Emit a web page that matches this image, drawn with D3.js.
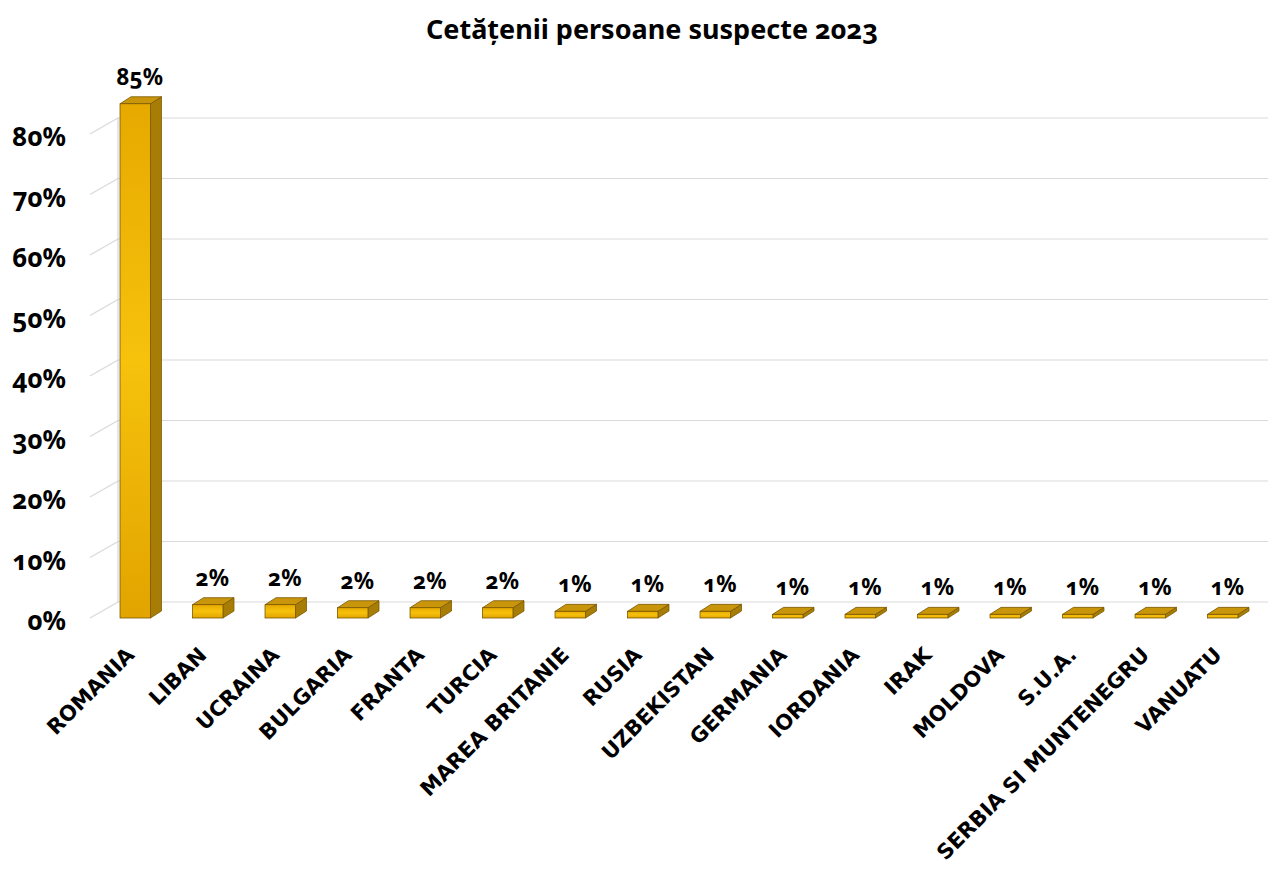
<!DOCTYPE html>
<html><head><meta charset="utf-8">
<script src="https://cdn.jsdelivr.net/npm/d3@7"></script>
<style>
body{margin:0;background:#fff;}
text{font-family:"Noto Sans",sans-serif;font-weight:bold;font-variant-numeric:oldstyle-nums;fill:#000;}
text.cat{font-family:"DejaVu Sans",sans-serif;}
</style></head>
<body><svg id="c" width="1268" height="870"></svg>
<script>
const categories=["ROMANIA","LIBAN","UCRAINA","BULGARIA","FRANTA","TURCIA","MAREA BRITANIE","RUSIA","UZBEKISTAN","GERMANIA","IORDANIA","IRAK","MOLDOVA","S.U.A.","SERBIA SI MUNTENEGRU","VANUATU"];
const values=[85,2.2,2.2,1.7,1.7,1.7,1.1,1.1,1.1,0.6,0.6,0.6,0.6,0.6,0.6,0.6];
const labels=["85%","2%","2%","2%","2%","2%","1%","1%","1%","1%","1%","1%","1%","1%","1%","1%"];
const yTicks=[0,10,20,30,40,50,60,70,80];
const title="Cetățenii persoane suspecte 2023";

const svg=d3.select("#c");
const y=d3.scaleLinear().domain([0,80]).range([618,134]);
const x=d3.scaleBand().domain(categories).range([99,1259]).paddingInner(0.58).paddingOuter(0.29);
const wallDX=28, wallDY=-16; // depth of the back wall
const barDX=11, barDY=-7;   // depth of bar

svg.append("text").attr("x",652).attr("y",39).attr("text-anchor","middle").style("font-size","27px").text(title);

const grid=svg.append("g");
yTicks.forEach(t=>{
  const yf=y(t), yb=y(t)+wallDY;
  grid.append("line").attr("x1",90).attr("y1",yf).attr("x2",90+wallDX).attr("y2",yb).attr("stroke","#d9d9d9").attr("stroke-width",1.2);
  grid.append("line").attr("x1",90+wallDX).attr("y1",yb).attr("x2",1268).attr("y2",yb).attr("stroke","#d9d9d9").attr("stroke-width",1.2);
});
grid.append("line").attr("x1",118).attr("x2",118).attr("y1",y(80)+wallDY).attr("y2",y(0)+wallDY).attr("stroke","#c8cdd8").attr("stroke-width",1);

svg.append("g").selectAll("text").data(yTicks).join("text")
  .attr("x",66).attr("y",d=>y(d)+5).attr("text-anchor","end").attr("dominant-baseline","middle")
  .style("font-size","26px").text(d=>d+"%");

const defs=svg.append("defs");
const g1=defs.append("linearGradient").attr("id","front").attr("x1",0).attr("y1",0).attr("x2",0).attr("y2",1);
g1.append("stop").attr("offset","0").attr("stop-color","#e7a900");
g1.append("stop").attr("offset","0.5").attr("stop-color","#f6c20c");
g1.append("stop").attr("offset","1").attr("stop-color","#e2a400");

const bars=svg.append("g").selectAll("g").data(categories).join("g");
bars.each(function(c,i){
  const g=d3.select(this);
  const x0=x(c), w=x.bandwidth(), yt=y(values[i]), yb=y(0);
  const stroke="#7a5800";
  g.append("path").attr("d",`M${x0+w},${yt}L${x0+w+barDX},${yt+barDY}L${x0+w+barDX},${yb+barDY}L${x0+w},${yb}Z`)
    .attr("fill","#a87d06").attr("stroke",stroke).attr("stroke-width",0.8);
  g.append("path").attr("d",`M${x0},${yt}L${x0+barDX},${yt+barDY}L${x0+w+barDX},${yt+barDY}L${x0+w},${yt}Z`)
    .attr("fill","#c9950a").attr("stroke",stroke).attr("stroke-width",0.8);
  g.append("rect").attr("x",x0).attr("y",yt).attr("width",w).attr("height",yb-yt)
    .attr("fill","url(#front)").attr("stroke",stroke).attr("stroke-width",0.8);
  g.append("text").attr("x",x0+w/2+barDX/2-1).attr("y",yt+barDY-12).attr("text-anchor","middle")
    .style("font-size","22.5px").text(labels[i]);
});

svg.append("g").selectAll("text").data(categories).join("text").attr("class","cat")
  .attr("transform",d=>`translate(${x(d)+x.bandwidth()/2-5},${651}) rotate(-45)`)
  .attr("text-anchor","end").attr("dy","0.35em").style("font-size","21px").text(d=>d);
</script></body></html>
